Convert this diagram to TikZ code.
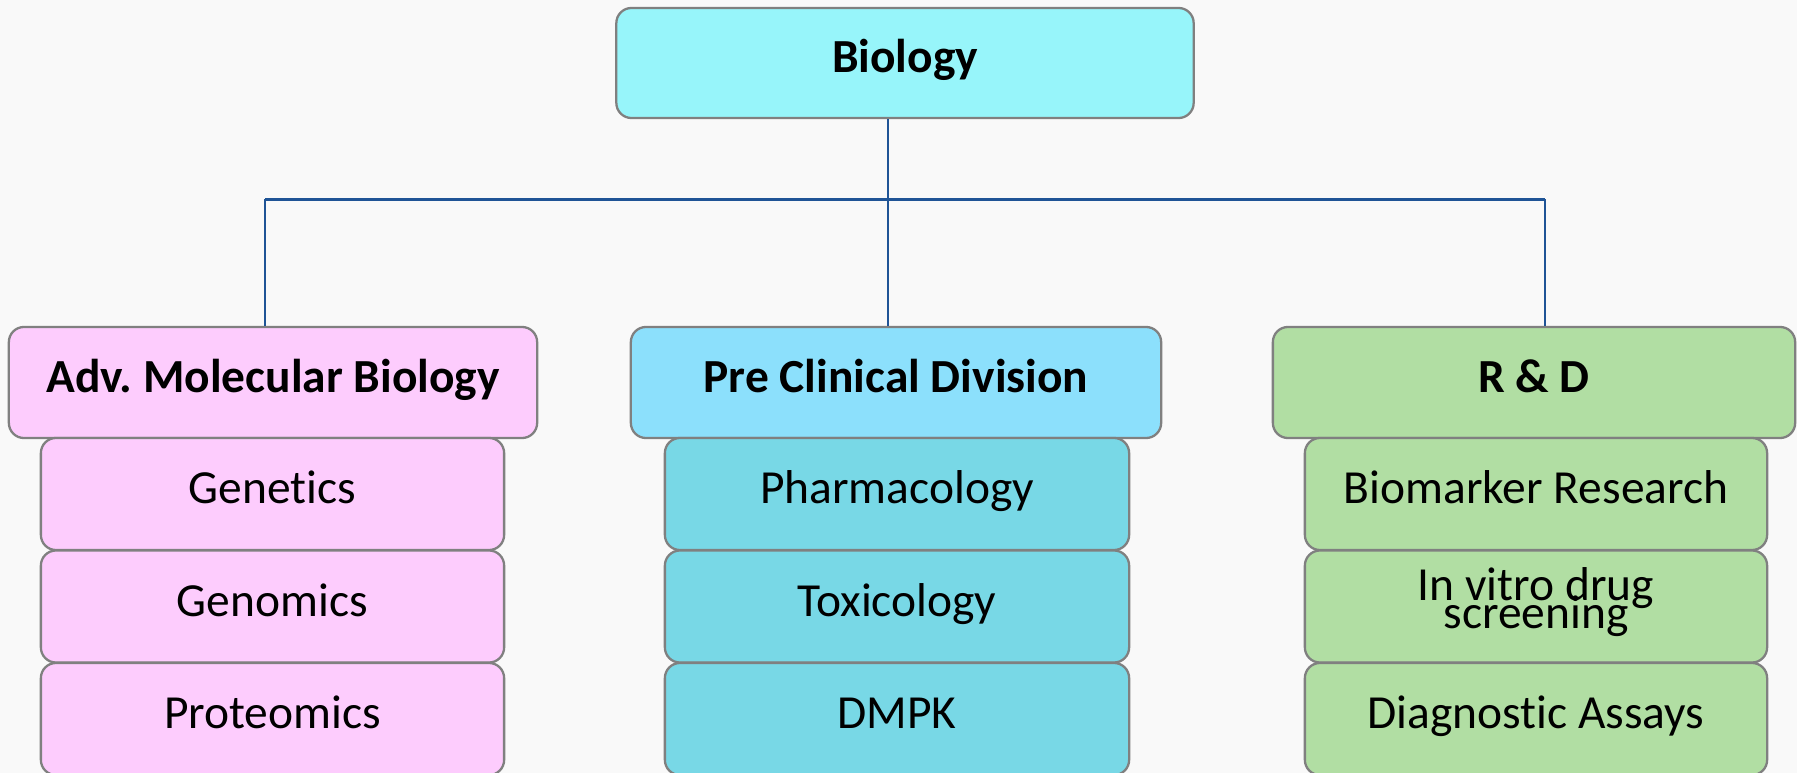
\documentclass[tikz,border=0pt]{standalone}
\usepackage{fontspec}
\setmainfont{Carlito}[Ligatures=NoCommon]
\newcommand\snuglines{\lineskiplimit=-100pt\relax\lineskip=0pt\relax}
\definecolor{paper}{HTML}{F9F9F9}
\definecolor{edge}{HTML}{808080}
\definecolor{wire}{HTML}{1F5496}
\definecolor{aqua}{HTML}{97F5FA}
\definecolor{rose}{HTML}{FDCCFD}
\definecolor{sky}{HTML}{8CE0FC}
\definecolor{lagoon}{HTML}{78D8E6}
\definecolor{leaf}{HTML}{B1DEA3}
\tikzset{
  box/.style={draw=edge, line width=0.65pt, rounded corners=4.3pt, inner sep=0pt,
    font=\fontsize{13.5}{16}\selectfont},
  oneline/.style={text height=9.5pt, text depth=4pt},
  head/.style={box, oneline, font=\fontsize{13.5}{16}\selectfont\bfseries,
    minimum width=5.28cm, minimum height=1.11cm},
  sub/.style={box, oneline, minimum width=4.63cm, minimum height=1.12cm},
  link/.style={draw=wire, line width=0.8pt},
}

\begin{document}
\begin{tikzpicture}[x=0.01cm, y=-0.01cm]
  \useasboundingbox (0,0) rectangle (1797,773);
  \fill[paper] (0,0) rectangle (1797,773);

  \node[head, fill=aqua, minimum width=5.77cm, minimum height=1.10cm] (bio) at (905,63) {Biology};

  \node[head, fill=rose] (amb) at (273,382.5) {Adv.\ Molecular Biology};
  \node[head, fill=sky, minimum width=5.30cm] (pcd) at (896,382.5) {Pre Clinical Division};
  \node[head, fill=leaf, minimum width=5.22cm] (rnd) at (1534,382.5) {R \& D};

  \node[sub, fill=rose] (gen) at (272.5,494) {Genetics};
  \node[sub, fill=rose] (gnm) at (272.5,606.5) {Genomics};
  \node[sub, fill=rose] (prt) at (272.5,719) {Proteomics};

  \node[sub, fill=lagoon, minimum width=4.64cm] (phr) at (897,494) {Pharmacology};
  \node[sub, fill=lagoon, minimum width=4.64cm] (tox) at (897,606.5) {Toxicology};
  \node[sub, fill=lagoon, minimum width=4.64cm] (dmp) at (897,719) {DMPK};

  \node[sub, fill=leaf, minimum width=4.62cm] (bmr) at (1536,494) {Biomarker Research};
  \node[box, fill=leaf, minimum width=4.62cm, minimum height=1.12cm, align=center,
    text depth=5pt, font=\fontsize{13.5}{8}\selectfont\snuglines] (ivd) at (1536,606.5)
    {In vitro drug\\screening};
  \node[sub, fill=leaf, minimum width=4.62cm] (dgn) at (1536,719) {Diagnostic Assays};

  \coordinate (jl) at (265,199.5);
  \coordinate (jm) at (888,199.5);
  \coordinate (jr) at (1545,199.5);
  \draw[link] (bio.south -| jm) -- (jm);
  \draw[link] (jl) -- (jr);
  \draw[link] (jl) -- (jl |- amb.north);
  \draw[link] (jm) -- (jm |- pcd.north);
  \draw[link] (jr) -- (jr |- rnd.north);
\end{tikzpicture}
\end{document}
